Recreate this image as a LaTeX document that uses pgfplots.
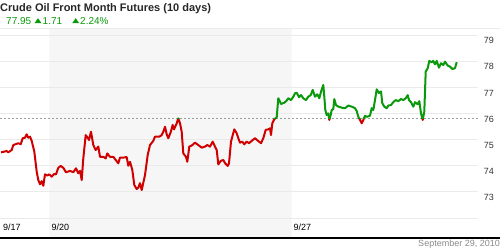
\documentclass[border=0pt]{standalone}
\usepackage{pgfplots}
\pgfplotsset{compat=1.18}
\usepackage{pgfplotstable}
\usepackage{fontspec}
\setmainfont{Liberation Sans}
\definecolor{upgreen}{HTML}{0A990A}
\definecolor{downred}{HTML}{D00000}
\definecolor{shade}{HTML}{F6F6F6}
\definecolor{gridc}{HTML}{EAEAEA}
\definecolor{txtgray}{HTML}{8A8A8A}
\pgfplotstableread{
x y
1 74.51
6.7 74.56
8.3 74.51
11.7 74.60
13.3 74.79
18.3 74.86
20.7 74.82
22.7 75.05
25 75.07
26.7 75.20
28.3 75.07
30 75.11
31.7 74.95
34.3 74.54
36.7 73.77
38.3 73.45
40 73.29
41.7 73.41
43.3 73.23
45 73.67
47.3 73.62
49.3 73.67
51.7 73.58
54 73.68
56 73.67
58.3 73.92
60.7 73.99
63.3 73.92
66 73.75
70 73.80
73.3 73.75
76 73.90
78.3 73.71
80 73.80
81.7 73.45
83.3 74.28
85.7 75.17
87.7 75.07
89 74.98
91 75.30
93.3 74.79
95.7 74.60
98.3 74.73
100 74.34
103.3 74.34
105.7 74.28
107.3 74.47
110 74.34
113.3 74.34
115.7 74.22
118.3 74.09
120 74.31
123.3 74.31
126.7 74.33
128.3 74.00
130 74.15
132.3 73.84
134.3 73.26
136.7 73.11
138.3 73.16
140 73.33
141.7 73.07
145 73.64
147.7 74.41
150 74.79
153.3 74.95
155 75.11
159.3 75.11
161.7 75.17
163.3 75.30
165 75.49
166.7 75.20
168.3 75.05
170.7 75.28
172.7 75.56
174 75.39
176.7 75.62
178.3 75.81
180 75.62
181.7 75.30
183.3 74.47
186 74.34
187.3 74.15
189.3 74.73
191.7 74.77
195 74.88
198.3 74.79
201.7 74.69
205 74.73
207.3 74.79
210 74.73
212.7 74.92
215 74.73
216.7 74.60
218.3 74.05
220.7 74.18
223.3 74.22
225 74.10
227.7 73.99
229 74.09
231 74.92
232.3 75.11
234.3 75.39
236.7 75.24
238.3 75.05
240 74.88
242.3 74.92
244.3 74.82
246.7 74.92
249 74.86
251.7 74.95
255 75.05
257.7 74.96
261 74.86
263.3 75.05
265.7 75.37
268.3 75.39
270 75.43
271 75.17
272.3 75.62
274.3 75.78
276.7 75.85
278.3 76.58
280 76.45
281 76.36
284.3 76.41
286.7 76.49
288.3 76.58
291 76.51
293.3 76.64
295 76.77
296.7 76.79
299 76.62
301 76.70
303.3 76.58
306 76.51
308.3 76.64
310.7 76.70
312.7 76.90
315 76.64
317.3 76.73
319.3 76.58
321 76.83
323.3 77.09
324.3 76.64
325.3 76.13
326.7 75.94
328.3 76.00
329.3 75.75
330.7 75.94
331.7 76.13
333.3 76.17
334.3 76.55
336 76.32
338.3 76.26
341.7 76.22
345 76.20
348.3 76.30
351.7 76.26
355 76.20
356.7 76.09
358.3 75.87
360 75.75
361.7 75.62
363.3 75.75
365 75.91
366.7 75.87
370 75.91
371.7 76.20
373.3 76.13
375 76.51
376.7 76.92
379 76.78
381 76.84
382.3 76.39
384.3 76.26
386.7 76.20
388.3 76.30
391 76.32
393.3 76.43
395.7 76.51
398.3 76.47
401 76.55
403.3 76.51
405.7 76.58
407.7 76.70
409 76.51
411 76.43
413.3 76.26
415 76.43
417.7 76.35
419.3 76.47
421 76.00
422.7 75.75
424.3 76.07
425.7 77.60
427.7 77.73
429.3 78.01
431.7 77.96
433.3 78.01
435 77.88
436.7 78.01
439 77.75
441 77.92
443.3 77.85
445 77.98
447.7 77.83
450 77.79
452.3 77.70
455 77.73
456.7 77.96
}\crudedata
\begin{document}
\begin{tikzpicture}[x=1pt,y=1pt]
% background axis: shading, grid, ticks, reference line
\begin{axis}[
  at={(0pt,13pt)}, anchor=south west,
  width=478pt, height=209pt, scale only axis,
  set layers=standard,
  xmin=0, xmax=478, ymin=71.272, ymax=79.268,
  axis line style={draw=none},
  major tick length=0pt,
  ytick={72,73,74,75,76,77,78,79},
  yticklabels={,73,74,75,76,77,78,79},
  yticklabel pos=right,
  yticklabel style={anchor=east, inner sep=0pt, xshift=16pt, yshift=-5.7pt, font=\fontsize{9}{9}\selectfont, text=black!80},
  xtick={0.8,49.3,291.5},
  xticklabels={9/17,9/20,9/27},
  xticklabel style={anchor=west, inner sep=0pt, xshift=2pt, yshift=9.3pt, font=\fontsize{9}{9}\selectfont, text=black},
  ymajorgrids, grid style={gridc, line width=0.8pt},
  /pgf/number format/assume math mode=true,
]
\addplot[fill=shade, draw=none, on layer=axis background] coordinates {(49.3,71.272) (291.5,71.272) (291.5,79.268) (49.3,79.268)} \closedcycle;
\addplot[black!38, line width=0.8pt, dash pattern=on 2pt off 2pt] coordinates {(0,75.813) (478,75.813)};
\end{axis}
% red part (below previous close)
\begin{axis}[
  at={(0pt,13pt)}, anchor=south west,
  width=478pt, height=118.7pt, scale only axis,
  xmin=0, xmax=478, ymin=71.272, ymax=75.813,
  axis lines=none, ticks=none, clip=true,
]
\addplot[downred, line width=2pt, line join=round] table[x=x,y=y] {\crudedata};
\end{axis}
% green part (above previous close)
\begin{axis}[
  at={(0pt,131.7pt)}, anchor=south west,
  width=478pt, height=90.3pt, scale only axis,
  xmin=0, xmax=478, ymin=75.813, ymax=79.268,
  axis lines=none, ticks=none, clip=true,
]
\addplot[upgreen, line width=2pt, line join=round] table[x=x,y=y] {\crudedata};
\end{axis}
% frame lines
\draw[black!8, line width=0.8pt] (0,222) -- (500,222);
\draw[black, line width=2pt] (0,12.5) -- (500,12.5);
% titles
\node[anchor=west, inner sep=0pt, font=\bfseries\fontsize{11}{11}\selectfont, text=black!85] at (0,241.5) {Crude Oil Front Month Futures (10 days)};
\node[anchor=base west, inner sep=0pt, font=\fontsize{10}{10}\selectfont, text=upgreen] at (6,225.5) {77.95};
\fill[upgreen] (34.5,226.8) -- (41.5,226.8) -- (38,231.8) -- cycle;
\node[anchor=base west, inner sep=0pt, font=\fontsize{10}{10}\selectfont, text=upgreen] at (42.5,225.5) {1.71};
\fill[upgreen] (72.2,226.8) -- (79.2,226.8) -- (75.7,231.8) -- cycle;
\node[anchor=base west, inner sep=0pt, font=\fontsize{10}{10}\selectfont, text=upgreen] at (80,225.5) {2.24\%};
\node[anchor=base east, inner sep=0pt, font=\fontsize{9}{9}\selectfont, text=txtgray] at (500,3.5) {September 29, 2010};
\pgfresetboundingbox
\useasboundingbox (0,0) rectangle (500,250);
\end{tikzpicture}
\end{document}
